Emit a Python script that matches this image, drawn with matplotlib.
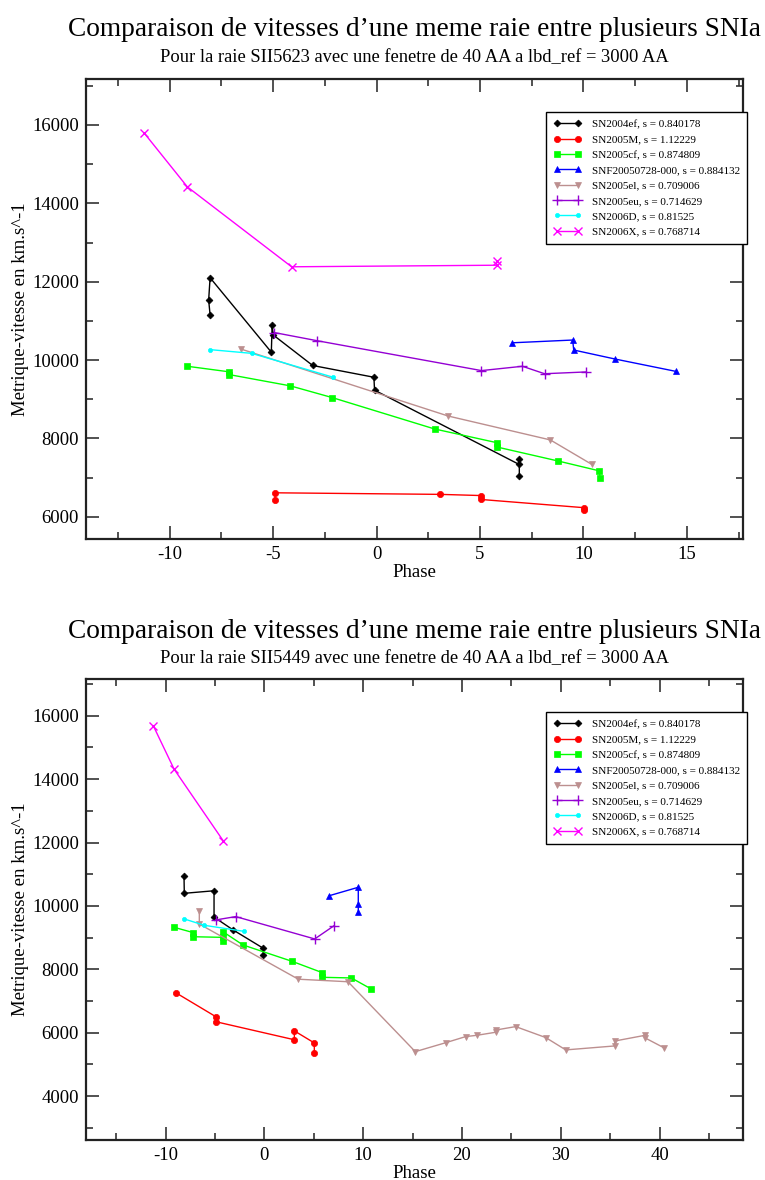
import matplotlib
matplotlib.use('Agg')
import matplotlib.pyplot as plt
from matplotlib.ticker import MultipleLocator

plt.rcParams['font.family'] = ['Liberation Serif', 'DejaVu Serif']
plt.rcParams['axes.unicode_minus'] = False

names = ['SN2004ef, s = 0.840178', 'SN2005M, s = 1.12229', 'SN2005cf, s = 0.874809',
         'SNF20050728-000, s = 0.884132', 'SN2005el, s = 0.709006', 'SN2005eu, s = 0.714629',
         'SN2006D, s = 0.81525', 'SN2006X, s = 0.768714']
colors = ['#000000', '#ff0000', '#00ff00', '#0000ff', '#bc8f8f', '#9400d3', '#00ffff', '#ff00ff']
markers = ['D', 'o', 's', '^', 'v', '+', 'o', 'x']
msizes = [3.5, 4.5, 4, 5, 5, 7, 3, 6]

# raie SII5623
ef_x_1 = [-8.05, -8.12, -8.05, -5.09, -5.05, -5.0, -3.09, -0.13, -0.10, 6.87, 6.90, 6.90]
ef_y_1 = [11150, 11530, 12100, 10200, 10890, 10640, 9860, 9560, 9230, 7340, 7470, 7030]
M_x_1 = [-4.91, -4.91, 3.07, 5.04, 5.04, 10.03, 10.05]
M_y_1 = [6430, 6610, 6570, 6540, 6440, 6230, 6160]
cf_x_1 = [-9.15, -7.15, -7.15, -4.17, -2.14, 2.80, 5.81, 5.81, 8.79, 10.77, 10.80]
cf_y_1 = [9840, 9700, 9630, 9340, 9040, 8240, 7890, 7780, 7420, 7170, 7000]
snf_x_1 = [6.57, 9.48, 9.53, 11.53, 14.47]
snf_y_1 = [10440, 10510, 10255, 10025, 9710]
el_x_1 = [-6.56, 3.46, 8.40, 10.39]
el_y_1 = [10280, 8570, 7960, 7340]
eu_x_1 = [-4.94, -2.90, 5.07, 7.05, 8.12, 10.11]
eu_y_1 = [10700, 10495, 9730, 9840, 9650, 9695]
D_x_1 = [-8.05, -6.04, -2.10]
D_y_1 = [10265, 10170, 9560]
X_x_1 = [-11.23, -9.15, -4.11, 5.80, 5.80]
X_y_1 = [15790, 14420, 12380, 12420, 12520]

# raie SII5449
ef_x_2 = [-8.13, -8.10, -5.09, -5.09, -3.14, -0.10, -0.10]
ef_y_2 = [10930, 10400, 10480, 9650, 9240, 8665, 8445]
M_x_2 = [-8.97, -4.92, -4.92, 3.04, 3.04, 5.06, 5.06]
M_y_2 = [7265, 6510, 6350, 5780, 6060, 5680, 5370]
cf_x_2 = [-9.17, -7.19, -7.19, -4.15, -4.15, -4.15, -2.16, 2.80, 5.84, 5.84, 8.81, 10.83]
cf_y_2 = [9330, 9160, 9030, 9010, 8890, 9180, 8770, 8255, 7900, 7750, 7730, 7380]
snf_x_2 = [6.58, 9.51, 9.51, 9.51]
snf_y_2 = [10325, 10590, 10065, 9800]
el_x_2 = [-6.58, -6.58, 3.44, 8.47, 15.28, 18.39, 20.38, 21.50, 23.48, 23.48,
          25.44, 28.48, 30.51, 35.46, 35.46, 38.53, 38.53, 40.49]
el_y_2 = [9840, 9430, 7690, 7610, 5405, 5690, 5880, 5920, 6020, 6090,
          6195, 5850, 5460, 5585, 5740, 5920, 5840, 5520]
eu_x_2 = [-4.92, -2.89, 5.10, 7.02]
eu_y_2 = [9560, 9665, 8960, 9370]
D_x_2 = [-8.10, -6.07, -2.05]
D_y_2 = [9590, 9390, 9200]
X_x_2 = [-11.23, -9.14, -4.15]
X_y_2 = [15680, 14320, 12050]

top_series = [(ef_x_1, ef_y_1), (M_x_1, M_y_1), (cf_x_1, cf_y_1), (snf_x_1, snf_y_1),
              (el_x_1, el_y_1), (eu_x_1, eu_y_1), (D_x_1, D_y_1), (X_x_1, X_y_1)]
bot_series = [(ef_x_2, ef_y_2), (M_x_2, M_y_2), (cf_x_2, cf_y_2), (snf_x_2, snf_y_2),
              (el_x_2, el_y_2), (eu_x_2, eu_y_2), (D_x_2, D_y_2), (X_x_2, X_y_2)]

W, H = 765, 1180
fig = plt.figure(figsize=(W / 100, H / 100), dpi=100)


def panel(rect, series, raie, xlim, ylim, xmaj, legend_top, title_y):

   ax = fig.add_axes(rect)

   for i in range(len(series)):
      x, y = series[i]
      ax.plot(x, y, color=colors[i], marker=markers[i], markersize=msizes[i],
              markeredgewidth=1.0 if markers[i] in '+x' else 0.5, linewidth=1.0,
              label=names[i])

   ax.set_xlim(xlim)
   ax.set_ylim(ylim)
   ax.xaxis.set_major_locator(MultipleLocator(xmaj))
   ax.xaxis.set_minor_locator(MultipleLocator(xmaj / 2))
   ax.yaxis.set_major_locator(MultipleLocator(2000))
   ax.yaxis.set_minor_locator(MultipleLocator(1000))
   ax.tick_params(which='both', direction='in', top=True, right=True,
                  labelsize=13.5, pad=5, color='#333333')
   ax.tick_params(which='major', length=9.5, width=1.2)
   ax.tick_params(which='minor', length=4.8, width=1.2)
   for s in ax.spines.values():
      s.set_linewidth(1.6)
      s.set_color('#222222')

   ax.set_xlabel('Phase', fontsize=13.5, labelpad=0.5)
   ax.set_ylabel('Metrique-vitesse en km.s^-1', fontsize=13.5, labelpad=2)

   cx = (rect[0] + rect[2] / 2)
   fig.text(cx, 1 - title_y / H, 'Comparaison de vitesses d\u2019une meme raie entre plusieurs SNIa',
            ha='center', va='center', fontsize=19.7)
   fig.text(cx, 1 - (title_y + 28) / H,
            'Pour la raie ' + raie + ' avec une fenetre de 40 AA a lbd_ref = 3000 AA',
            ha='center', va='center', fontsize=13.3)

   leg = ax.legend(loc='upper left', bbox_to_anchor=(546 / W, 1 - legend_top / H),
                   bbox_transform=fig.transFigure, borderaxespad=0, fontsize=8,
                   numpoints=2, handlelength=2.5, handletextpad=1.0,
                   labelspacing=0.5, borderpad=0.65, fancybox=False,
                   framealpha=1, edgecolor='black')
   leg.get_frame().set_linewidth(1.0)
   return ax


panel([86 / W, 1 - 539.3 / H, 656.7 / W, 460.3 / H], top_series, 'SII5623',
      (-14.05, 17.7), (5423, 17174), 5, 112.3, 30)
panel([86 / W, 1 - 1140 / H, 656.7 / W, 461 / H], bot_series, 'SII5449',
      (-18.05, 48.42), (2618, 17160), 10, 712.3, 631)

fig.savefig('out.png', dpi=100)
